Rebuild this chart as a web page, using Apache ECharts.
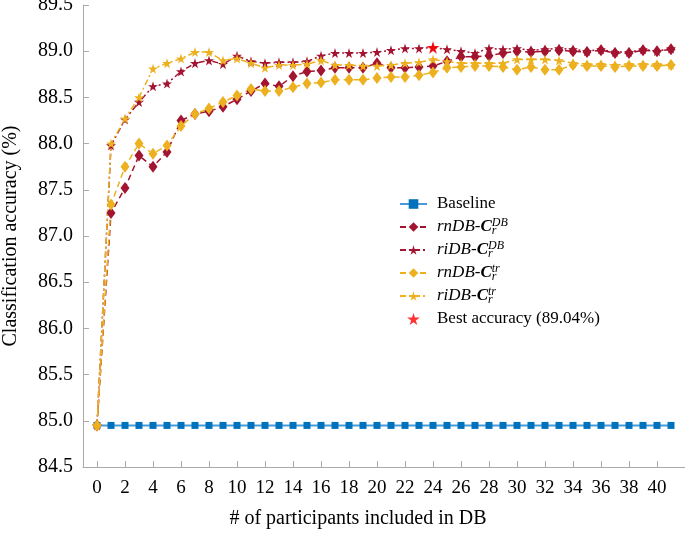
<!DOCTYPE html>
<html>
<head>
<meta charset="utf-8">
<script src="https://cdn.jsdelivr.net/npm/echarts@6/dist/echarts.min.js"></script>
<style>
  html, body { margin: 0; padding: 0; background: #fff; }
  #chart { width: 685px; height: 536px; }
</style>
</head>
<body>
<div id="chart"></div>
<script>
// x positions: number of participants included in DB
const participants = [0, 1, 2, 3, 4, 5, 6, 7, 8, 9, 10, 11, 12, 13, 14, 15, 16, 17, 18, 19, 20,
  21, 22, 23, 24, 25, 26, 27, 28, 29, 30, 31, 32, 33, 34, 35, 36, 37, 38, 39, 40, 41];
const xTicks = [0, 2, 4, 6, 8, 10, 12, 14, 16, 18, 20, 22, 24, 26, 28, 30, 32, 34, 36, 38, 40];

const baseline = [84.95, 84.95, 84.95, 84.95, 84.95, 84.95, 84.95, 84.95, 84.95, 84.95, 84.95,
  84.95, 84.95, 84.95, 84.95, 84.95, 84.95, 84.95, 84.95, 84.95, 84.95, 84.95, 84.95, 84.95,
  84.95, 84.95, 84.95, 84.95, 84.95, 84.95, 84.95, 84.95, 84.95, 84.95, 84.95, 84.95, 84.95,
  84.95, 84.95, 84.95, 84.95, 84.95];
// rnDB-C_r^DB
const rnDbDb = [84.95, 87.25, 87.52, 87.87, 87.75, 87.91, 88.25, 88.32, 88.35, 88.40, 88.48,
  88.57, 88.65, 88.62, 88.73, 88.78, 88.79, 88.82, 88.82, 88.82, 88.87, 88.82, 88.82, 88.83,
  88.84, 88.89, 88.94, 88.94, 88.95, 88.98, 89.00, 88.99, 89.00, 89.01, 89.00, 88.99, 89.01,
  88.98, 88.98, 89.01, 89.00, 89.02];
// riDB-C_r^DB
const riDbDb = [84.95, 87.98, 88.26, 88.45, 88.62, 88.65, 88.78, 88.87, 88.90, 88.86, 88.95,
  88.89, 88.87, 88.88, 88.88, 88.89, 88.95, 88.98, 88.98, 88.98, 88.99, 89.01, 89.03, 89.03,
  89.04, 89.02, 89.00, 88.98, 89.03, 89.02, 89.03, 89.01, 89.02, 89.03, 89.02, 89.00, 89.02,
  88.99, 88.99, 89.02, 89.00, 89.03];
// rnDB-C_r^tr
const rnDbTr = [84.95, 87.34, 87.75, 88.00, 87.89, 87.98, 88.19, 88.32, 88.38, 88.45, 88.52,
  88.59, 88.57, 88.57, 88.61, 88.65, 88.66, 88.69, 88.69, 88.69, 88.71, 88.72, 88.72, 88.74,
  88.77, 88.82, 88.83, 88.84, 88.84, 88.83, 88.80, 88.83, 88.80, 88.80, 88.85, 88.84, 88.84,
  88.83, 88.84, 88.84, 88.84, 88.85];
// riDB-C_r^tr
const riDbTr = [84.95, 88.00, 88.27, 88.50, 88.81, 88.87, 88.92, 88.99, 88.99, 88.90, 88.92,
  88.87, 88.82, 88.85, 88.85, 88.86, 88.90, 88.85, 88.85, 88.84, 88.84, 88.85, 88.87, 88.88,
  88.91, 88.89, 88.87, 88.87, 88.87, 88.87, 88.91, 88.91, 88.91, 88.90, 88.87, 88.86, 88.86,
  88.85, 88.86, 88.86, 88.86, 88.85];
const bestX = 24;
const bestY = 89.04;

const FONT = 'Liberation Serif';
const STAR = 'path://M50,0 L61,35 L98,35 L68,57 L79,91 L50,70 L21,91 L32,57 L2,35 L39,35 Z';
const RED = '#A2142F';
const ORANGE = '#EDB120';
const BLUE = '#0072BD';

const pairs = arr => participants.map((x, i) => [x, arr[i]]);

// 图例文字（上下标）
const legendText = {
  'Baseline': 'Baseline',
  'rnDB-Cr-DB': '{it|rnDB-}{c|C}{sub|r}{sup|DB}',
  'riDB-Cr-DB': '{it|riDB-}{c|C}{sub|r}{sup|DB}',
  'rnDB-Cr-tr': '{it|rnDB-}{c|C}{sub|r}{sup|tr}',
  'riDB-Cr-tr': '{it|riDB-}{c|C}{sub|r}{sup|tr}',
  'Best accuracy': 'Best accuracy (89.04%)'
};

const chart = echarts.init(document.getElementById('chart'));

const lineSeries = (name, data, color, dash, symbol, size) => ({
  name,
  type: 'line',
  data: pairs(data),
  symbol,
  symbolSize: size,
  lineStyle: { color, width: 1.5, type: dash },
  itemStyle: { color },
  emphasis: { disabled: true }
});

chart.setOption({
  animation: false,
  backgroundColor: '#fff',
  grid: { left: 83, right: 0, top: 5, bottom: 69, outerBoundsMode: 'none' },
  legend: {
    orient: 'vertical',
    left: 399,
    top: 194,
    padding: 0,
    itemGap: 3,
    itemWidth: 27,
    itemHeight: 12,
    data: ['Baseline', 'rnDB-Cr-DB', 'riDB-Cr-DB', 'rnDB-Cr-tr', 'riDB-Cr-tr', 'Best accuracy'],
    formatter: name => legendText[name],
    textStyle: {
      fontFamily: FONT,
      fontSize: 17,
      color: '#000',
      lineHeight: 20,
      padding: [0, 0, 0, 5],
      rich: {
        it: { fontFamily: FONT, fontSize: 17, fontStyle: 'italic', lineHeight: 20 },
        c: { fontFamily: FONT, fontSize: 17, fontStyle: 'italic', fontWeight: 'bold', lineHeight: 20 },
        sub: { fontFamily: FONT, fontSize: 12, fontStyle: 'italic', width: 0, lineHeight: 11, verticalAlign: 'bottom' },
        sup: { fontFamily: FONT, fontSize: 12, fontStyle: 'italic', lineHeight: 11, verticalAlign: 'top' }
      }
    }
  },
  xAxis: {
    type: 'value',
    min: -1,
    max: 42,
    name: '# of participants included in DB',
    nameLocation: 'middle',
    nameGap: 42,
    nameTextStyle: { fontFamily: FONT, fontSize: 20, color: '#000', padding: [0, 52, 0, 0] },
    axisLine: { onZero: false, lineStyle: { color: '#aaa' } },
    axisTick: { inside: true, length: 6, lineStyle: { color: '#aaa' }, customValues: xTicks },
    axisLabel: { fontFamily: FONT, fontSize: 19, color: '#000', margin: 12, customValues: xTicks },
    splitLine: { show: false }
  },
  yAxis: {
    type: 'value',
    min: 84.5,
    max: 89.5,
    interval: 0.5,
    name: 'Classification accuracy (%)',
    nameLocation: 'middle',
    nameGap: 62,
    nameTextStyle: { fontFamily: FONT, fontSize: 20, color: '#000' },
    axisLine: { show: true, onZero: false, lineStyle: { color: '#aaa' } },
    axisTick: { show: true, inside: true, length: 6, lineStyle: { color: '#aaa' } },
    axisLabel: {
      fontFamily: FONT, fontSize: 20, color: '#000', margin: 10,
      formatter: v => v.toFixed(1)
    },
    splitLine: { show: false }
  },
  series: [
    {
      name: 'Baseline',
      type: 'line',
      data: pairs(baseline),
      symbol: 'rect',
      symbolSize: 7,
      lineStyle: { color: '#4a9ad8', width: 2 },
      itemStyle: { color: BLUE },
      emphasis: { disabled: true }
    },
    lineSeries('rnDB-Cr-DB', rnDbDb, RED, [6, 4], 'diamond', [9, 12]),
    lineSeries('riDB-Cr-DB', riDbDb, RED, [6, 3, 2, 3], STAR, 10),
    lineSeries('rnDB-Cr-tr', rnDbTr, ORANGE, [6, 4], 'diamond', [9, 12]),
    lineSeries('riDB-Cr-tr', riDbTr, ORANGE, [6, 3, 2, 3], STAR, 10),
    {
      name: 'Best accuracy',
      type: 'scatter',
      data: [[bestX, bestY]],
      symbol: STAR,
      symbolSize: 13,
      itemStyle: { color: '#FF0000' },
      z: 5,
      emphasis: { disabled: true }
    }
  ]
});
</script>
</body>
</html>
